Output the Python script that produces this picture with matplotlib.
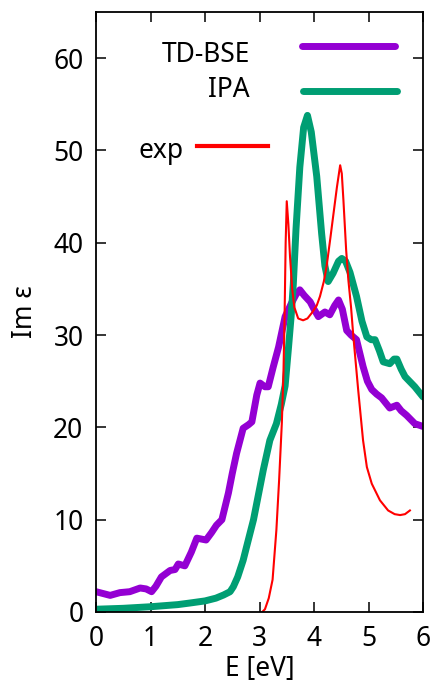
import matplotlib
matplotlib.use("Agg")
import matplotlib.pyplot as plt

# TD-BSE (purple)
bse_e = [0.0, 0.13, 0.26, 0.44, 0.62, 0.81, 0.92, 1.02, 1.1, 1.2, 1.36, 1.45, 1.51, 1.63,
         1.75, 1.85, 2.02, 2.12, 2.21, 2.31, 2.43, 2.5, 2.58, 2.7, 2.8, 2.86, 2.95, 3.01,
         3.1, 3.16, 3.25, 3.35, 3.47, 3.59, 3.67, 3.74, 3.82, 3.93, 4.0, 4.08, 4.2, 4.29,
         4.38, 4.45, 4.52, 4.6, 4.68, 4.78, 4.9, 4.98, 5.06, 5.15, 5.24, 5.39, 5.52, 5.6,
         5.7, 5.85, 6.0]
bse_im = [2.2, 2.0, 1.8, 2.1, 2.2, 2.6, 2.5, 2.2, 2.8, 3.8, 4.5, 4.6, 5.2, 5.0,
          6.5, 8.0, 7.8, 8.6, 9.4, 10.0, 12.9, 15.0, 17.2, 19.9, 20.3, 20.6, 23.5, 24.8,
          24.4, 24.4, 26.5, 28.7, 32.0, 33.5, 34.4, 34.9, 34.3, 33.6, 32.8, 32.0, 32.5, 32.2,
          33.2, 33.8, 32.8, 30.5, 30.0, 29.5, 26.6, 25.0, 24.1, 23.6, 23.2, 22.1, 22.4, 21.8,
          21.3, 20.4, 20.1]

# IPA (green)
ipa_e = [0.0, 0.5, 1.0, 1.5, 1.72, 2.0, 2.2, 2.34, 2.46, 2.52, 2.6, 2.7, 2.76, 2.89, 2.98,
         3.07, 3.19, 3.31, 3.4, 3.47, 3.53, 3.58, 3.62, 3.67, 3.74, 3.81, 3.88, 3.95, 4.05,
         4.14, 4.2, 4.26, 4.35, 4.45, 4.51, 4.58, 4.66, 4.78, 4.88, 4.97, 5.05, 5.12, 5.2,
         5.27, 5.39, 5.47, 5.52, 5.6, 5.67, 5.85, 6.0]
ipa_im = [0.3, 0.4, 0.57, 0.8, 0.97, 1.2, 1.5, 1.84, 2.2, 2.74, 3.8, 5.6, 7.0, 10.0, 12.7,
          15.4, 18.6, 20.4, 22.5, 24.5, 28.5, 32.0, 35.5, 41.5, 48.2, 52.5, 53.8, 52.0, 47.2,
          41.0, 37.5, 35.8, 36.7, 38.0, 38.3, 38.0, 36.8, 34.2, 31.5, 29.8, 29.5, 29.5, 28.3,
          27.1, 26.9, 27.4, 27.4, 26.3, 25.5, 24.4, 23.3]

# experiment (red)
exp_e = [3.05, 3.1, 3.17, 3.24, 3.31, 3.36, 3.41, 3.44, 3.46, 3.48, 3.5, 3.53, 3.56, 3.6,
         3.64, 3.71, 3.8, 3.88, 3.96, 4.05, 4.11, 4.18, 4.23, 4.3, 4.35, 4.42, 4.48, 4.51,
         4.54, 4.59, 4.63, 4.68, 4.72, 4.81, 4.9, 4.97, 5.06, 5.21, 5.36, 5.48, 5.58, 5.67,
         5.76]
exp_im = [0.0, 0.3, 1.5, 3.5, 8.9, 14.3, 20.5, 26.0, 32.0, 40.0, 44.5, 42.0, 38.5, 35.0,
          33.0, 31.8, 31.6, 31.8, 32.4, 33.2, 34.2, 35.8, 37.4, 40.5, 42.8, 46.0, 48.4, 47.5,
          44.6, 39.2, 36.0, 33.0, 30.0, 24.1, 18.6, 15.7, 13.9, 12.1, 11.0, 10.6, 10.5, 10.6,
          11.0]

plt.rcParams['font.family'] = ['Noto Sans', 'DejaVu Sans']

fig = plt.figure(figsize=(4.32, 6.82), dpi=100)
ax = fig.add_axes([96/432, 1 - 612/682, 327/432, 600/682])

c_bse = '#9400d3'
c_ipa = '#009e73'
c_exp = '#ff0000'

ax.plot(bse_e, bse_im, color=c_bse, lw=5, solid_capstyle='round', solid_joinstyle='round')
ax.plot(ipa_e, ipa_im, color=c_ipa, lw=5, solid_capstyle='round', solid_joinstyle='round')
ax.plot(exp_e, exp_im, color=c_exp, lw=1.5)

ax.set_xlim(0, 6)
ax.set_ylim(0, 65)
ax.set_xticks(range(0, 7))
ax.set_yticks(range(0, 61, 10))
ax.tick_params(direction='in', length=7, width=1.1, top=True, right=True,
               labelsize=19, pad=9)
for s in ax.spines.values():
    s.set_linewidth(1.3)

ax.set_xlabel('E [eV]', fontsize=19, labelpad=2)
ax.set_ylabel('Im ε', fontsize=19, labelpad=10)

# gnuplot-style key
tr = ax.transAxes
ax.text(0.471, 0.917, 'TD-BSE', transform=tr, ha='right', va='baseline', fontsize=19)
ax.plot([0.629, 0.914], [0.944, 0.944], transform=tr, color=c_bse, lw=5,
        solid_capstyle='round')
ax.text(0.469, 0.859, 'IPA', transform=tr, ha='right', va='baseline', fontsize=19)
ax.plot([0.634, 0.920], [0.869, 0.869], transform=tr, color=c_ipa, lw=5,
        solid_capstyle='round')
ax.text(0.268, 0.756, 'exp', transform=tr, ha='right', va='baseline', fontsize=19)
ax.plot([0.31, 0.527], [0.776, 0.776], transform=tr, color=c_exp, lw=3)

fig.savefig('out.png', dpi=100)
